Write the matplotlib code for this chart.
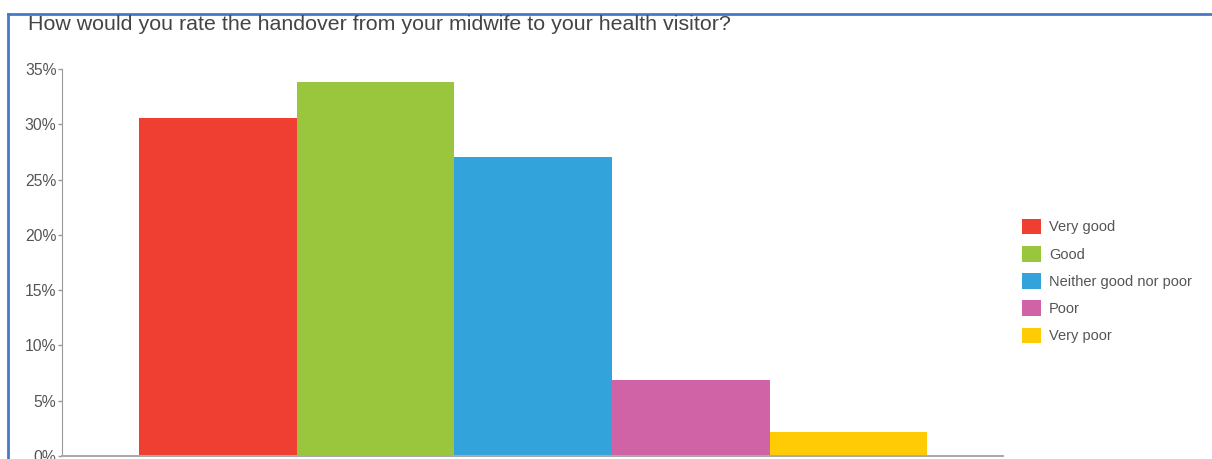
import matplotlib.pyplot as plt
from matplotlib.patches import Patch
from matplotlib.lines import Line2D

plt.rcParams["font.family"] = ["Liberation Sans", "DejaVu Sans"]

# survey answers and their share of respondents (%)
categories = ["Very good", "Good", "Neither good nor poor", "Poor", "Very poor"]
shares = [30.6, 33.8, 27.0, 6.9, 2.2]
colors = ["#EF3E32", "#99C63C", "#33A3DC", "#D063A6", "#FFCB05"]
yticks = [0, 5, 10, 15, 20, 25, 30, 35]
title = "How would you rate the handover from your midwife to your health visitor?"

fig = plt.figure(figsize=(12.12, 4.59), dpi=100)
ax = fig.add_axes([62 / 1212, 3 / 459, 941 / 1212, 387 / 459])

positions = list(range(len(categories)))
ax.bar(positions, shares, width=1.0, color=colors)

ax.set_xlim(-0.99, 4.98)
ax.set_ylim(0, 35)
ax.set_yticks(yticks)
ax.set_yticklabels([f"{t}%" for t in yticks])
ax.set_xticks([])
ax.tick_params(axis="y", colors="#999999", labelcolor="#555555",
               labelsize=11.3, length=3, width=1, pad=1)
for side in ["top", "right"]:
    ax.spines[side].set_visible(False)
ax.spines["left"].set_color("#999999")
ax.spines["bottom"].set_color("#aaaaaa")
ax.spines["bottom"].set_linewidth(1.5)

# legend on the right
handles = [Patch(facecolor=c, edgecolor="none") for c in colors]
leg = fig.legend(handles, categories, loc="center left",
                 bbox_to_anchor=(1009 / 1212, 1 - 281 / 459),
                 frameon=False, fontsize=10.5, handlelength=1.3,
                 handleheight=1.3, handletextpad=0.55, labelspacing=0.78)
for t in leg.get_texts():
    t.set_color("#555555")

fig.text(28 / 1212, 1 - 25 / 459, title, fontsize=15.4, color="#444444",
         va="center", ha="left")

# blue frame around the panel
frame_kw = dict(color="#4A78C8", linewidth=2, transform=fig.transFigure)
fig.add_artist(Line2D([8 / 1212, 1], [1 - 14 / 459] * 2, **frame_kw))
fig.add_artist(Line2D([8 / 1212] * 2, [0, 1 - 14 / 459], **frame_kw))

fig.savefig("out.png", dpi=100)
